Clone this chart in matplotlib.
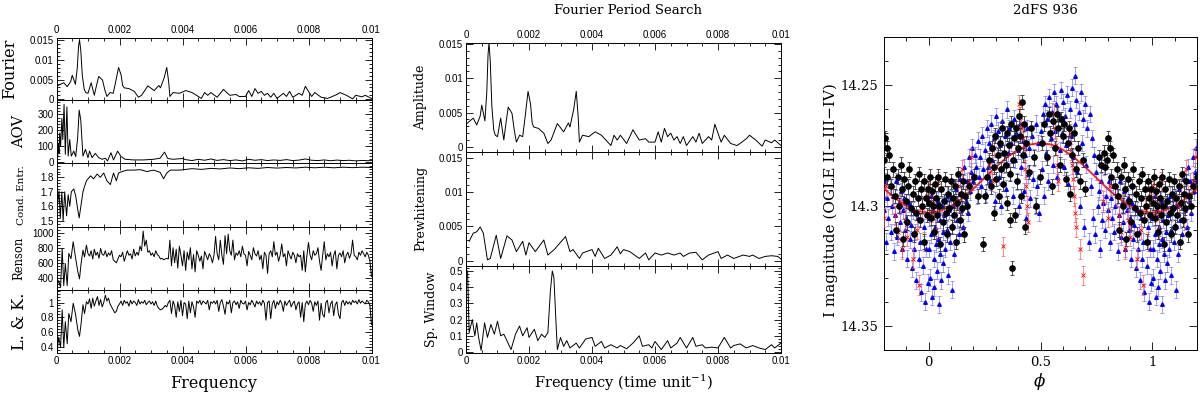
import numpy as np
from matplotlib import pyplot as plt
from matplotlib.ticker import MultipleLocator, FormatStrFormatter

# ---- periodogram data: (frequency, value) ----
amplitudeCurve = [
    (0.0, 0.0033), (0.0001, 0.0037), (0.00023, 0.0042), (0.00034, 0.0032), (0.00045, 0.0045),
    (0.0005, 0.0061), (0.0006, 0.0038), (0.00066, 0.0080), (0.0007, 0.0135), (0.00073, 0.0152),
    (0.00077, 0.0125), (0.00082, 0.0060), (0.00088, 0.0025), (0.00093, 0.0017), (0.001, 0.0015),
    (0.0011, 0.0042), (0.0012, 0.0010), (0.00127, 0.0035), (0.00134, 0.0058), (0.00146, 0.0049),
    (0.00153, 0.0025), (0.0016, 0.0007), (0.0017, 0.0017), (0.0018, 0.0015), (0.00188, 0.0045),
    (0.00197, 0.0081), (0.00205, 0.0062), (0.0021, 0.0035), (0.00215, 0.0029), (0.0023, 0.0027),
    (0.00247, 0.0020), (0.0026, 0.0005), (0.0027, 0.0010), (0.0029, 0.0034), (0.0031, 0.0022),
    (0.00325, 0.0035), (0.0033, 0.0029), (0.00342, 0.0055), (0.0035, 0.0081), (0.00356, 0.0045),
    (0.0036, 0.0007), (0.0037, 0.0017), (0.0039, 0.0015), (0.0041, 0.0022), (0.0043, 0.0017),
    (0.0046, 0.0002), (0.0047, 0.0017), (0.0048, 0.0010), (0.0049, 0.0017), (0.0051, 0.0005),
    (0.0053, 0.0025), (0.0055, 0.0010), (0.0057, 0.0012), (0.0058, 0.0007), (0.006, 0.0007),
    (0.0061, 0.0022), (0.0062, 0.0007), (0.0063, 0.0027), (0.0064, 0.0015), (0.0065, 0.0020),
    (0.0066, 0.0010), (0.0067, 0.0015), (0.0068, 0.0005), (0.0069, 0.0015), (0.007, 0.0002),
    (0.0072, 0.0015), (0.0073, 0.0007), (0.0074, 0.0020), (0.0075, 0.0005), (0.0077, 0.0015),
    (0.0078, 0.0010), (0.0079, 0.0033), (0.0081, 0.0007), (0.0082, 0.0017), (0.0084, 0.0005),
    (0.0086, 0.0002), (0.0087, 0.0005), (0.0089, 0.0012), (0.009, 0.0017), (0.0092, 0.0010),
    (0.0094, 0.0001), (0.0095, 0.0010), (0.0097, 0.0006), (0.0098, 0.0010), (0.01, 0.0002),
]

prewhiteningCurve = [
    (0.0001, 0.0028), (0.00023, 0.0040), (0.00034, 0.0042), (0.00045, 0.0049), (0.00055, 0.0040),
    (0.00068, 0.0001), (0.00077, 0.0003), (0.00096, 0.0037), (0.0011, 0.0003), (0.0013, 0.0036),
    (0.00146, 0.0030), (0.0016, 0.0013), (0.0018, 0.0028), (0.0019, 0.0008), (0.002, 0.0026),
    (0.0022, 0.0013), (0.00247, 0.0030), (0.0026, 0.0008), (0.0028, 0.0016), (0.00316, 0.0035),
    (0.0033, 0.0013), (0.0034, 0.0016), (0.0036, 0.0003), (0.0037, 0.0011), (0.004, 0.0016),
    (0.0041, 0.0006), (0.0042, 0.0018), (0.0044, 0.0003), (0.0046, 0.0008), (0.0048, 0.0020),
    (0.0049, 0.0010), (0.005, 0.0016), (0.0052, 0.0013), (0.0055, 0.0003), (0.0057, 0.0011),
    (0.0058, 0.0001), (0.006, 0.0011), (0.0062, 0.0008), (0.0064, 0.0011), (0.0066, 0.0008),
    (0.0068, 0.0011), (0.0069, 0.0006), (0.0071, 0.0011), (0.0073, 0.0012), (0.0075, 0.0001),
    (0.0077, 0.0008), (0.008, 0.0013), (0.0081, 0.0003), (0.0083, 0.0008), (0.0085, 0.0003),
    (0.0088, 0.0008), (0.009, 0.0006), (0.0091, 0.0008), (0.0093, 0.0003), (0.0095, 0.0006),
    (0.0097, 0.0007), (0.0099, 0.0006), (0.01, 0.0002),
]

windowCurve = [
    (0.00005, 0.50), (0.0001, 0.12), (0.0002, 0.20), (0.00028, 0.10), (0.00034, 0.18),
    (0.0004, 0.09), (0.00048, 0.01), (0.00059, 0.18), (0.00068, 0.09), (0.00079, 0.17),
    (0.0009, 0.11), (0.001, 0.19), (0.0011, 0.10), (0.0012, 0.11), (0.0013, 0.07),
    (0.00143, 0.015), (0.00157, 0.11), (0.0017, 0.16), (0.0018, 0.10), (0.00194, 0.15),
    (0.002, 0.09), (0.00217, 0.14), (0.00228, 0.07), (0.0024, 0.11), (0.0025, 0.09),
    (0.0026, 0.12), (0.00268, 0.38), (0.00274, 0.50), (0.00279, 0.46), (0.00286, 0.17),
    (0.0029, 0.015), (0.003, 0.09), (0.0031, 0.035), (0.0032, 0.07), (0.0033, 0.025),
    (0.0035, 0.055), (0.0036, 0.025), (0.0038, 0.08), (0.004, 0.09), (0.0041, 0.035),
    (0.0043, 0.065), (0.0044, 0.025), (0.0046, 0.045), (0.0048, 0.025), (0.0049, 0.04),
    (0.0051, 0.02), (0.0053, 0.055), (0.0055, 0.10), (0.0056, 0.035), (0.0058, 0.045),
    (0.0059, 0.025), (0.006, 0.065), (0.0062, 0.015), (0.0064, 0.07), (0.0065, 0.025),
    (0.0067, 0.055), (0.0068, 0.09), (0.007, 0.025), (0.0072, 0.09), (0.0073, 0.035),
    (0.0075, 0.045), (0.0076, 0.025), (0.0078, 0.03), (0.008, 0.025), (0.0082, 0.09),
    (0.0084, 0.025), (0.0085, 0.04), (0.0087, 0.05), (0.0089, 0.025), (0.0091, 0.04),
    (0.0093, 0.025), (0.0095, 0.015), (0.0097, 0.045), (0.0098, 0.025), (0.01, 0.055),
]

aovCurve = [
    (0.0, 20), (0.00004, 40), (0.00006, 120), (0.00008, 60), (0.0001, 184), (0.00013, 100),
    (0.00017, 275), (0.0002, 143), (0.00024, 363), (0.00028, 51), (0.00033, 347), (0.00037, 40),
    (0.00042, 143), (0.00047, 40), (0.00055, 71), (0.00061, 37), (0.00067, 150), (0.00072, 327),
    (0.00077, 265), (0.00084, 40), (0.00092, 82), (0.001, 30), (0.00105, 71), (0.00113, 30),
    (0.00123, 57), (0.00134, 30), (0.00145, 20), (0.00155, 27), (0.00162, 10), (0.00173, 61),
    (0.00181, 16), (0.00194, 71), (0.00205, 37), (0.00218, 20), (0.00245, 16), (0.00276, 16),
    (0.00308, 20), (0.00329, 27), (0.00343, 65), (0.00353, 25), (0.0037, 20), (0.004, 25),
    (0.0041, 18), (0.0043, 12), (0.0045, 20), (0.0047, 14), (0.0049, 22), (0.0051, 13),
    (0.0053, 18), (0.0055, 12), (0.0057, 16), (0.0059, 10), (0.0061, 20), (0.0063, 14),
    (0.0065, 18), (0.0067, 12), (0.0069, 16), (0.0071, 13), (0.0073, 18), (0.0075, 12),
    (0.0077, 15), (0.0079, 22), (0.0081, 14), (0.0083, 12), (0.0085, 16), (0.0087, 11),
    (0.0089, 15), (0.0091, 12), (0.0093, 14), (0.0095, 10), (0.0097, 13), (0.0099, 11),
    (0.01, 12),
]

condEntrCurve = [
    (0.00004, 1.625), (0.00008, 1.706), (0.00012, 1.52), (0.00017, 1.70), (0.00021, 1.50),
    (0.00026, 1.70), (0.00032, 1.535), (0.00037, 1.68), (0.00042, 1.60), (0.00047, 1.70),
    (0.00055, 1.72), (0.00061, 1.67), (0.00068, 1.57), (0.00072, 1.52), (0.00078, 1.61),
    (0.00084, 1.70), (0.00088, 1.73), (0.00095, 1.776), (0.00108, 1.81), (0.00118, 1.79),
    (0.00129, 1.823), (0.00139, 1.80), (0.0015, 1.83), (0.0016, 1.776), (0.00171, 1.75),
    (0.00181, 1.83), (0.0019, 1.776), (0.00197, 1.83), (0.00208, 1.84), (0.00224, 1.85),
    (0.00245, 1.85), (0.00266, 1.853), (0.00287, 1.84), (0.00308, 1.85), (0.00329, 1.835),
    (0.0034, 1.79), (0.0035, 1.83), (0.00361, 1.85), (0.00392, 1.85), (0.0043, 1.86),
    (0.0046, 1.855), (0.0049, 1.862), (0.0052, 1.858), (0.0055, 1.865), (0.0058, 1.86),
    (0.0061, 1.866), (0.0064, 1.862), (0.0067, 1.868), (0.007, 1.864), (0.0073, 1.868),
    (0.0076, 1.865), (0.0079, 1.87), (0.0082, 1.866), (0.0085, 1.87), (0.0088, 1.866),
    (0.0091, 1.87), (0.0094, 1.867), (0.0097, 1.87), (0.01, 1.868),
]

# low-frequency part of the Renson and L&K statistics
rensonLow = [
    (0.00002, 298), (0.00007, 365), (0.00013, 275), (0.00018, 790), (0.00023, 298),
    (0.00028, 588), (0.00034, 298), (0.00039, 723), (0.00046, 655), (0.00053, 879),
    (0.0006, 678), (0.00068, 477), (0.00073, 387), (0.00078, 588), (0.00084, 767),
    (0.00089, 678), (0.00095, 834),
]
lkLow = [
    (0.00002, 0.34), (0.00007, 0.53), (0.00013, 0.39), (0.00018, 0.90), (0.00023, 0.39),
    (0.00028, 0.74), (0.00034, 0.44), (0.00039, 0.85), (0.00046, 0.74), (0.00053, 0.99),
    (0.0006, 0.85), (0.00068, 0.62), (0.00073, 0.54), (0.00078, 0.71), (0.00084, 0.97),
    (0.00089, 0.85), (0.00095, 1.01),
]

# 0.001 .. 0.01 sampled every 0.00005
rensonHigh = [
    720, 690, 760, 650, 780, 700, 740, 660, 790, 710, 700, 760, 680, 730, 700, 760, 640, 620, 600, 650,
    700, 680, 740, 620, 690, 760, 700, 720, 650, 780, 690, 740, 700, 820, 760, 1020, 820, 900, 740, 760,
    700, 730, 680, 760, 710, 690, 650, 660, 640, 650, 660, 650, 900, 560, 800, 600, 780, 530, 820, 700,
    560, 760, 500, 740, 640, 800, 520, 710, 480, 760, 700, 620, 690, 520, 750, 700, 640, 720, 680, 600,
    700, 950, 720, 640, 900, 700, 580, 960, 720, 980, 760, 700, 900, 640, 730, 700, 760, 680, 820, 720,
    700, 560, 750, 700, 640, 800, 720, 690, 760, 640, 700, 520, 740, 700, 460, 720, 760, 680, 880, 700,
    740, 620, 700, 850, 680, 720, 560, 760, 700, 650, 740, 700, 600, 720, 680, 700, 500, 760, 480, 700,
    870, 700, 640, 760, 700, 720, 800, 620, 500, 700, 880, 640, 720, 680, 740, 560, 700, 760, 520, 700,
    730, 680, 760, 600, 700, 740, 660, 720, 900, 700, 680, 640, 740, 700, 760, 720, 680, 740, 700, 620,
    420,
]
lkHigh = [
    0.98, 1.05, 0.92, 1.06, 0.95, 1.02, 1.08, 0.96, 1.04, 0.94, 1.00, 1.10, 1.02, 1.06, 0.98, 0.94, 0.90, 0.86, 0.88, 0.95,
    0.98, 1.02, 0.96, 1.03, 0.99, 1.01, 0.95, 1.03, 0.98, 1.02, 1.00, 0.96, 1.04, 0.98, 1.01, 0.99, 1.03, 0.97, 1.00, 1.02,
    0.98, 1.01, 0.96, 1.02, 0.95, 0.92, 0.90, 0.91, 0.93, 0.96, 0.94, 1.00, 1.03, 0.85, 1.02, 0.96, 0.80, 1.01, 0.88, 1.03,
    0.82, 1.00, 0.98, 0.78, 1.02, 0.86, 1.01, 0.94, 0.80, 1.02, 0.99, 1.03, 0.97, 1.02, 1.00, 0.98, 1.03, 0.90, 1.01, 0.99,
    1.02, 0.98, 1.03, 0.88, 1.00, 1.04, 0.95, 0.84, 1.01, 0.98, 1.03, 0.86, 1.00, 1.02, 0.97, 1.01, 0.92, 1.03, 0.99, 0.98,
    1.02, 0.90, 1.00, 0.97, 1.03, 0.99, 0.94, 1.02, 0.98, 1.01, 0.96, 1.03, 0.99, 0.76, 1.00, 1.02, 0.78, 0.98, 1.03, 0.92,
    1.01, 0.97, 1.03, 0.99, 0.88, 1.02, 0.96, 1.00, 1.03, 0.94, 0.99, 1.02, 0.90, 0.98, 1.01, 0.80, 1.00, 0.74, 0.98, 1.02,
    0.97, 1.03, 0.99, 0.88, 1.01, 0.96, 1.02, 0.76, 0.99, 0.84, 0.80, 1.00, 1.03, 0.86, 0.98, 1.02, 0.82, 0.97, 1.01, 0.84,
    0.78, 1.00, 1.03, 0.96, 1.02, 0.98, 1.01, 0.97, 1.03, 1.00, 1.02, 0.98, 1.04, 0.99, 1.02, 1.00, 0.98, 1.03, 1.01, 0.96,
    0.70,
]

# ---- light curve: (phase, I mag) for the three data sets ----
blackPoints = [
    (0.763, 14.280), (0.771, 14.283), (0.782, 14.278), (0.789, 14.284), (0.798, 14.281), (0.803, 14.272),
    (0.812, 14.276), (0.815, 14.288), (0.824, 14.279), (0.833, 14.292), (0.842, 14.285), (0.848, 14.296),
    (0.853, 14.310), (0.861, 14.288), (0.868, 14.300), (0.874, 14.283), (0.879, 14.293), (0.884, 14.314),
    (0.891, 14.289), (0.897, 14.298), (0.903, 14.307), (0.908, 14.292), (0.914, 14.285), (0.921, 14.301),
    (0.928, 14.295), (0.933, 14.312), (0.939, 14.290), (0.944, 14.303), (0.951, 14.297), (0.955, 14.287),
    (0.962, 14.306), (0.966, 14.293), (0.972, 14.300), (0.977, 14.315), (0.981, 14.290), (0.986, 14.297),
    (0.991, 14.304), (0.996, 14.293), (0.002, 14.299), (0.006, 14.288), (0.011, 14.305), (0.016, 14.294),
    (0.021, 14.300), (0.024, 14.311), (0.029, 14.291), (0.034, 14.297), (0.038, 14.304), (0.043, 14.288),
    (0.048, 14.300), (0.052, 14.316), (0.057, 14.293), (0.062, 14.307), (0.068, 14.298), (0.073, 14.289),
    (0.078, 14.303), (0.082, 14.312), (0.087, 14.295), (0.092, 14.301), (0.098, 14.290), (0.103, 14.309),
    (0.107, 14.297), (0.112, 14.304), (0.118, 14.292), (0.122, 14.315), (0.127, 14.299), (0.133, 14.287),
    (0.138, 14.306), (0.143, 14.295), (0.148, 14.301), (0.153, 14.290), (0.158, 14.312), (0.163, 14.296),
    (0.171, 14.300), (0.182, 14.292), (0.201, 14.288), (0.219, 14.296), (0.245, 14.316), (0.252, 14.296),
    (0.262, 14.288), (0.271, 14.281), (0.278, 14.292), (0.283, 14.276), (0.291, 14.284), (0.294, 14.303),
    (0.298, 14.271), (0.303, 14.289), (0.309, 14.279), (0.313, 14.296), (0.318, 14.274), (0.323, 14.285),
    (0.329, 14.268), (0.333, 14.291), (0.338, 14.278), (0.344, 14.283), (0.349, 14.270), (0.352, 14.299),
    (0.358, 14.275), (0.362, 14.306), (0.364, 14.287), (0.369, 14.266), (0.374, 14.326), (0.377, 14.281),
    (0.382, 14.272), (0.386, 14.304), (0.391, 14.268), (0.395, 14.290), (0.399, 14.276), (0.403, 14.263),
    (0.408, 14.271), (0.412, 14.296), (0.418, 14.257), (0.421, 14.279), (0.427, 14.266), (0.431, 14.309),
    (0.437, 14.274), (0.448, 14.286), (0.458, 14.268), (0.469, 14.280), (0.482, 14.300), (0.498, 14.288),
    (0.508, 14.274), (0.517, 14.266), (0.528, 14.280), (0.536, 14.262), (0.544, 14.270), (0.551, 14.292),
    (0.558, 14.265), (0.566, 14.276), (0.572, 14.262), (0.579, 14.268), (0.586, 14.283), (0.592, 14.264),
    (0.601, 14.271), (0.607, 14.266), (0.613, 14.289), (0.621, 14.274), (0.628, 14.268), (0.633, 14.295),
    (0.642, 14.279), (0.651, 14.270), (0.658, 14.285), (0.667, 14.276), (0.676, 14.290), (0.688, 14.281),
    (0.701, 14.293),
]

bluePoints = [
    (0.000, 14.305), (0.003, 14.318), (0.005, 14.330), (0.010, 14.296), (0.012, 14.312), (0.015, 14.338),
    (0.020, 14.302), (0.022, 14.322), (0.025, 14.334), (0.030, 14.309), (0.032, 14.316), (0.035, 14.327),
    (0.040, 14.298), (0.042, 14.314), (0.045, 14.341), (0.050, 14.306), (0.052, 14.320), (0.055, 14.331),
    (0.060, 14.300), (0.062, 14.311), (0.065, 14.324), (0.070, 14.304), (0.075, 14.318), (0.080, 14.296),
    (0.082, 14.310), (0.085, 14.329), (0.090, 14.302), (0.095, 14.315), (0.100, 14.297), (0.102, 14.308),
    (0.105, 14.335), (0.110, 14.300), (0.115, 14.320), (0.120, 14.293), (0.125, 14.306), (0.130, 14.298),
    (0.135, 14.312), (0.140, 14.289), (0.145, 14.302), (0.150, 14.295), (0.155, 14.309), (0.160, 14.284),
    (0.165, 14.298), (0.170, 14.290), (0.175, 14.303), (0.180, 14.280), (0.185, 14.294), (0.190, 14.286),
    (0.195, 14.276), (0.200, 14.290), (0.205, 14.279), (0.210, 14.284), (0.215, 14.296), (0.220, 14.273),
    (0.225, 14.288), (0.230, 14.280), (0.235, 14.292), (0.240, 14.271), (0.245, 14.285), (0.250, 14.277),
    (0.255, 14.295), (0.260, 14.268), (0.265, 14.284), (0.270, 14.274), (0.275, 14.290), (0.280, 14.266),
    (0.285, 14.281), (0.290, 14.272), (0.295, 14.298), (0.300, 14.263), (0.305, 14.279), (0.310, 14.269),
    (0.315, 14.288), (0.320, 14.275), (0.325, 14.300), (0.330, 14.265), (0.335, 14.283), (0.340, 14.271),
    (0.345, 14.293), (0.350, 14.260), (0.355, 14.278), (0.360, 14.268), (0.365, 14.286), (0.370, 14.274),
    (0.375, 14.296), (0.380, 14.264), (0.385, 14.281), (0.390, 14.270), (0.395, 14.290), (0.400, 14.277),
    (0.405, 14.300), (0.410, 14.266), (0.415, 14.284), (0.420, 14.273), (0.425, 14.294), (0.430, 14.279),
    (0.435, 14.305), (0.440, 14.268), (0.445, 14.287), (0.450, 14.276), (0.455, 14.297), (0.460, 14.271),
    (0.465, 14.289), (0.470, 14.280), (0.475, 14.300), (0.480, 14.266), (0.485, 14.292), (0.490, 14.274),
    (0.495, 14.303), (0.500, 14.269), (0.505, 14.285), (0.510, 14.262), (0.515, 14.296), (0.520, 14.258),
    (0.525, 14.278), (0.530, 14.264), (0.535, 14.290), (0.540, 14.255), (0.545, 14.272), (0.550, 14.261),
    (0.555, 14.283), (0.560, 14.253), (0.565, 14.269), (0.570, 14.258), (0.575, 14.288), (0.580, 14.262),
    (0.585, 14.277), (0.590, 14.252), (0.595, 14.270), (0.600, 14.257), (0.605, 14.284), (0.610, 14.263),
    (0.615, 14.275), (0.620, 14.254), (0.625, 14.291), (0.630, 14.260), (0.635, 14.271), (0.640, 14.251),
    (0.645, 14.280), (0.653, 14.246), (0.655, 14.266), (0.660, 14.256), (0.665, 14.286), (0.670, 14.261),
    (0.675, 14.300), (0.680, 14.253), (0.685, 14.274), (0.690, 14.264), (0.695, 14.309), (0.700, 14.258),
    (0.705, 14.283), (0.710, 14.268), (0.715, 14.315), (0.720, 14.262), (0.725, 14.292), (0.730, 14.272),
    (0.735, 14.305), (0.740, 14.279), (0.745, 14.312), (0.750, 14.286), (0.755, 14.300), (0.760, 14.294),
    (0.765, 14.318), (0.770, 14.290), (0.775, 14.306), (0.780, 14.299), (0.785, 14.284), (0.790, 14.310),
    (0.795, 14.296), (0.800, 14.302), (0.805, 14.290), (0.810, 14.315), (0.815, 14.297), (0.820, 14.305),
    (0.825, 14.292), (0.830, 14.311), (0.835, 14.300), (0.840, 14.296), (0.845, 14.319), (0.850, 14.304),
    (0.855, 14.290), (0.860, 14.313), (0.865, 14.299), (0.870, 14.307), (0.875, 14.294), (0.880, 14.318),
    (0.885, 14.302), (0.890, 14.297), (0.895, 14.310), (0.900, 14.305), (0.905, 14.322), (0.910, 14.299),
    (0.915, 14.314), (0.920, 14.308), (0.925, 14.326), (0.930, 14.302), (0.935, 14.318), (0.940, 14.311),
    (0.945, 14.331), (0.950, 14.305), (0.955, 14.322), (0.960, 14.315), (0.965, 14.336), (0.970, 14.300),
    (0.975, 14.325), (0.980, 14.309), (0.985, 14.340), (0.990, 14.318), (0.995, 14.332),
]

redPoints = [
    (0.840, 14.296), (0.851, 14.304), (0.862, 14.311), (0.871, 14.299), (0.880, 14.318), (0.892, 14.306),
    (0.901, 14.313), (0.930, 14.322), (0.948, 14.310), (0.958, 14.333), (0.969, 14.301), (0.980, 14.315),
    (0.991, 14.296), (0.002, 14.292), (0.012, 14.303), (0.021, 14.298), (0.031, 14.310), (0.041, 14.290),
    (0.121, 14.300), (0.130, 14.292), (0.141, 14.306), (0.150, 14.285), (0.161, 14.296), (0.180, 14.290),
    (0.190, 14.280), (0.270, 14.283), (0.281, 14.290), (0.290, 14.276), (0.331, 14.317), (0.405, 14.258),
    (0.410, 14.263), (0.415, 14.268), (0.420, 14.272), (0.425, 14.278), (0.430, 14.285), (0.435, 14.292),
    (0.440, 14.300), (0.445, 14.307), (0.560, 14.262), (0.565, 14.268), (0.570, 14.275), (0.575, 14.283),
    (0.580, 14.290), (0.630, 14.270), (0.635, 14.277), (0.640, 14.283), (0.645, 14.289), (0.650, 14.296),
    (0.655, 14.303), (0.660, 14.309), (0.675, 14.318), (0.690, 14.329), (0.781, 14.298), (0.800, 14.305),
    (0.811, 14.292),
]

blackErr, blueErr, redErr = 0.003, 0.0035, 0.004

# sinusoidal fit drawn in red
fitPhase = [-0.2, -0.15, -0.1, -0.05, 0.0, 0.05, 0.1, 0.15, 0.2, 0.25, 0.3, 0.35, 0.4, 0.45, 0.5,
            0.55, 0.6, 0.65, 0.7, 0.75, 0.8, 0.85, 0.9, 0.95, 1.0, 1.05, 1.1, 1.15, 1.2]
fitMag = [14.2930, 14.2970, 14.3002, 14.3023, 14.3030, 14.3023, 14.3002, 14.2970, 14.2930, 14.2885,
          14.2840, 14.2800, 14.2768, 14.2747, 14.2740, 14.2747, 14.2768, 14.2800, 14.2840, 14.2885,
          14.2930, 14.2970, 14.3002, 14.3023, 14.3030, 14.3023, 14.3002, 14.2970, 14.2930]

plt.rcParams['font.family'] = ['Liberation Sans', 'DejaVu Sans']
plt.rcParams['mathtext.fontset'] = 'dejavuserif'
SERIF = 'DejaVu Serif'
W, H = 1200, 394
fig = plt.figure(figsize=(12, 3.94), dpi=100)


def addPanel(left, top, right, bottom):
    return fig.add_axes([left / W, 1 - bottom / H, (right - left) / W, (bottom - top) / H])


def styleAxis(ax, xMajor, xMinor, yMajor, yMinor, labelSize=7, majorLen=5, minorLen=2.5):
    ax.xaxis.set_major_locator(MultipleLocator(xMajor))
    ax.xaxis.set_minor_locator(MultipleLocator(xMinor))
    ax.yaxis.set_major_locator(MultipleLocator(yMajor))
    ax.yaxis.set_minor_locator(MultipleLocator(yMinor))
    ax.xaxis.set_major_formatter(FormatStrFormatter('%g'))
    ax.yaxis.set_major_formatter(FormatStrFormatter('%g'))
    ax.tick_params(which='both', direction='in', top=True, right=True, labelsize=labelSize, pad=2, width=0.6)
    ax.tick_params(which='major', length=majorLen)
    ax.tick_params(which='minor', length=minorLen)
    for spine in ax.spines.values():
        spine.set_linewidth(0.7)


def splitPairs(pairs):
    arr = np.array(pairs, dtype=float)
    return arr[:, 0], arr[:, 1]


def yLabel(text, xPx, yPx, size):
    fig.text(xPx / W, 1 - yPx / H, text, rotation=90, ha='center', va='center',
             fontsize=size, family=SERIF)


ampFreq, ampVal = splitPairs(amplitudeCurve)
rLowF, rLowV = splitPairs(rensonLow)
kLowF, kLowV = splitPairs(lkLow)
rensonFreq = np.concatenate([rLowF, np.linspace(0.001, 0.01, len(rensonHigh))])
rensonVal = np.concatenate([rLowV, rensonHigh])
lkFreq = np.concatenate([kLowF, np.linspace(0.001, 0.01, len(lkHigh))])
lkVal = np.concatenate([kLowV, lkHigh])

# ---- left column: five statistics ----
leftX = (56.5, 371.5)
leftRows = [38, 100, 163.3, 227.3, 290, 353.3]
leftPanels = [
    ('Fourier', (ampFreq, ampVal), (-0.0002, 0.0156), 0.005, 0.001, 11.5, 10),
    ('AOV', splitPairs(aovCurve), (-5, 390), 100, 20, 10.5, 19),
    ('Cond. Entr.', splitPairs(condEntrCurve), (1.455, 1.897), 0.1, 0.02, 7.5, 22),
    ('Renson', (rensonFreq, rensonVal), (240, 1070), 200, 40, 8.3, 19),
    ('L. & K.', (lkFreq, lkVal), (0.31, 1.17), 0.2, 0.04, 11.5, 19),
]
for i, (name, (fx, fy), yLim, yMaj, yMin, size, labX) in enumerate(leftPanels):
    ax = addPanel(leftX[0], leftRows[i], leftX[1], leftRows[i + 1])
    ax.plot(fx, fy, color='black', lw=0.7)
    ax.set_xlim(0, 0.01)
    ax.set_ylim(*yLim)
    styleAxis(ax, 0.002, 0.0005, yMaj, yMin)
    ax.tick_params(labeltop=(i == 0), labelbottom=(i == len(leftPanels) - 1))
    yLabel(name, labX, (leftRows[i] + leftRows[i + 1]) / 2, size)
fig.text(214 / W, 1 - 383 / H, 'Frequency', ha='center', va='center', fontsize=11.5, family=SERIF)

# ---- middle column: Fourier period search ----
midX = (466, 781)
midRows = [42.7, 151.7, 266, 353.3]
midPanels = [
    ('Amplitude', (ampFreq, ampVal), (-0.0007, 0.0152), 0.005, 0.001, 421),
    ('Prewhitening', splitPairs(prewhiteningCurve), (-0.0008, 0.0159), 0.005, 0.001, 421),
    ('Sp. Window', splitPairs(windowCurve), (-0.008, 0.531), 0.1, 0.02, 431),
]
for i, (name, (fx, fy), yLim, yMaj, yMin, labX) in enumerate(midPanels):
    ax = addPanel(midX[0], midRows[i], midX[1], midRows[i + 1])
    ax.plot(fx, fy, color='black', lw=0.7)
    ax.set_xlim(0, 0.01)
    ax.set_ylim(*yLim)
    styleAxis(ax, 0.002, 0.0005, yMaj, yMin)
    ax.tick_params(labeltop=(i == 0), labelbottom=(i == len(midPanels) - 1))
    yLabel(name, labX, (midRows[i] + midRows[i + 1]) / 2, 9)
fig.text(628 / W, 1 - 10 / H, 'Fourier Period Search', ha='center', va='center', fontsize=9.5, family=SERIF)
fig.text(623.5 / W, 1 - 383 / H, 'Frequency (time unit$^{-1}$)', ha='center', va='center',
         fontsize=10.5, family=SERIF)

# ---- right column: phased light curve ----
ax = addPanel(884, 37, 1197, 350)


def wrapPhase(points):
    ph, mag = splitPairs(points)
    lateOnes, earlyOnes = ph > 0.79, ph < 0.21
    return (np.concatenate([ph, ph[lateOnes] - 1, ph[earlyOnes] + 1]),
            np.concatenate([mag, mag[lateOnes], mag[earlyOnes]]))


bx, by = wrapPhase(bluePoints)
ax.errorbar(bx, by, yerr=blueErr, fmt='^', ms=2.6, color='blue', ecolor=(0.35, 0.35, 1.0, 0.65),
            elinewidth=0.6, capsize=1.6, capthick=0.6, zorder=2)
rx, ry = wrapPhase(redPoints)
ax.errorbar(rx, ry, yerr=redErr, fmt='x', ms=2.4, mew=0.6, color='red', ecolor=(1.0, 0.3, 0.3, 0.75),
            elinewidth=0.6, capsize=1.6, capthick=0.6, zorder=3)
ax.plot(fitPhase, fitMag, color='red', lw=1.4, alpha=0.85, zorder=4)
kx, ky = wrapPhase(blackPoints)
ax.errorbar(kx, ky, yerr=blackErr, fmt='o', ms=3.8, color='black', ecolor='0.2',
            elinewidth=0.6, capsize=1.6, capthick=0.6, zorder=5)
ax.set_xlim(-0.2, 1.2)
ax.set_ylim(14.36, 14.23)
styleAxis(ax, 0.5, 0.1, 0.05, 0.01, labelSize=9.5, majorLen=6, minorLen=3)
for lab in ax.get_xticklabels() + ax.get_yticklabels():
    lab.set_family(SERIF)
ax.tick_params(pad=4)
fig.text(1045 / W, 1 - 10 / H, '2dFS 936', ha='center', va='center', fontsize=9.5, family=SERIF)
yLabel('I magnitude (OGLE II\u2212III\u2212IV)', 831, 200, 11)
fig.text(1040 / W, 1 - 382 / H, r'$\phi$', ha='center', va='center', fontsize=12)

plt.savefig('out.png', dpi=100)
